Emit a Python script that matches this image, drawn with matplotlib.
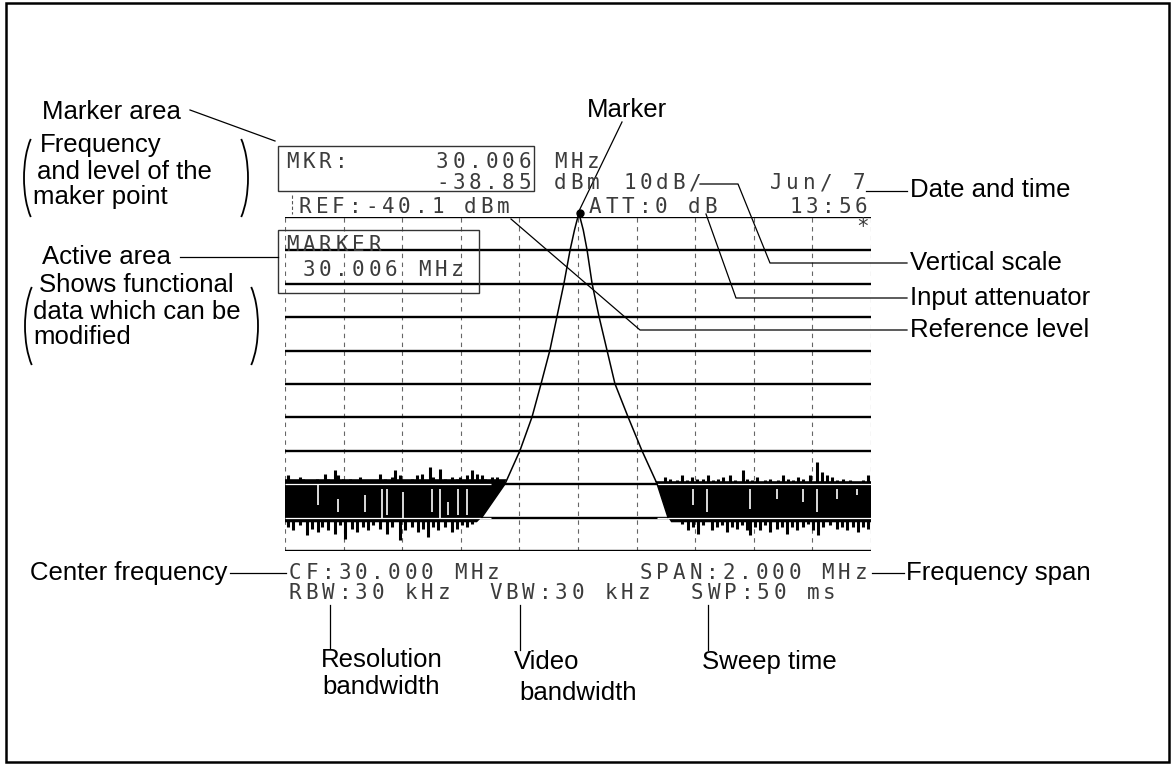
import matplotlib
matplotlib.use("Agg")
import matplotlib.pyplot as plt
from matplotlib.patches import Arc, Rectangle

# --- Analyzer settings shown on the screen ---
center_mhz = 30.000
span_mhz = 2.000
ref_level_dbm = -40.1
scale_db_div = 10
n_div_x = 10
n_div_y = 10
att_db = 0
rbw_khz = 30
vbw_khz = 30
sweep_ms = 50
date_text = "Jun/ 7"
time_text = "13:56"
marker_mhz = 30.006
marker_dbm = -38.85

# --- Signal peak ---
peak_mhz = [29.672, 29.751, 29.802, 29.843, 29.874, 29.904, 29.928, 29.952, 29.973, 29.988,
            30.003, 30.018, 30.031, 30.048, 30.072, 30.099, 30.126, 30.171, 30.218, 30.270, 30.307]
peak_dbm = [-130, -120, -110, -100, -90, -80, -70, -60, -50, -44,
            -38.9, -44, -50, -60, -70, -80, -90, -100, -110, -120, -130]

# --- Noise floor outline, left and right of the peak ---
noise_left_mhz = [29.000, 29.000, 29.755, 29.751, 29.672, 29.655]
noise_left_dbm = [-131.5, -118.6, -118.6, -120.0, -130.0, -131.5]
noise_right_mhz = [30.262, 30.270, 30.307, 30.318, 31.000, 31.000]
noise_right_dbm = [-119.2, -120.0, -130.0, -131.5, -131.5, -119.2]

# upward noise spikes
up_mhz = [29.011, 29.051, 29.063, 29.091, 29.108, 29.137, 29.148, 29.171, 29.182, 29.199,
          29.222, 29.239, 29.256, 29.279, 29.296, 29.324, 29.341, 29.364, 29.376, 29.393,
          29.404, 29.432, 29.450, 29.467, 29.495, 29.506, 29.529, 29.546, 29.569, 29.586,
          29.597, 29.620, 29.637, 29.654, 29.671, 29.683, 29.706, 29.723,
          30.297, 30.314, 30.337, 30.354, 30.371, 30.388, 30.405, 30.428, 30.445, 30.462,
          30.479, 30.496, 30.519, 30.536, 30.564, 30.576, 30.593, 30.610, 30.638, 30.655,
          30.684, 30.701, 30.718, 30.735, 30.752, 30.769, 30.792, 30.815, 30.832, 30.849,
          30.866, 30.883, 30.906, 30.928, 30.951, 30.974, 30.991]
up_dbm = [-117.4, -117.9, -118.4, -118.9, -118.4, -116.9, -118.4, -115.9, -117.4, -118.4,
          -118.4, -118.9, -117.9, -119.4, -118.9, -116.9, -118.4, -117.9, -115.9, -117.4,
          -118.9, -118.4, -117.4, -116.9, -114.9, -117.9, -115.4, -118.4, -117.9, -118.4,
          -117.9, -117.4, -115.9, -116.9, -117.4, -118.4, -117.9, -117.9,
          -117.9, -118.4, -118.9, -117.4, -118.9, -117.9, -118.4, -118.6, -117.4, -118.9,
          -118.4, -117.9, -117.4, -118.9, -115.9, -118.4, -118.9, -117.9, -118.9, -118.4,
          -118.9, -117.4, -118.4, -118.9, -117.9, -118.4, -117.4, -113.4, -116.4, -117.4,
          -117.9, -118.9, -118.4, -118.9, -119.4, -118.9, -117.4]

# downward noise spikes
down_mhz = [29.011, 29.028, 29.051, 29.074, 29.091, 29.114, 29.125, 29.148, 29.171, 29.188,
            29.205, 29.228, 29.245, 29.267, 29.284, 29.302, 29.324, 29.347, 29.364, 29.393,
            29.410, 29.432, 29.455, 29.472, 29.489, 29.506, 29.523, 29.546, 29.569, 29.586,
            29.603, 29.620, 29.637,
            30.354, 30.377, 30.394, 30.411, 30.428, 30.456, 30.473, 30.490, 30.507, 30.524,
            30.542, 30.559, 30.576, 30.587, 30.604, 30.621, 30.638, 30.655, 30.678, 30.695,
            30.712, 30.729, 30.746, 30.769, 30.786, 30.803, 30.820, 30.837, 30.860, 30.883,
            30.900, 30.917, 30.940, 30.957, 30.974, 30.991]
down_dbm = [-132.9, -133.9, -132.4, -135.4, -133.4, -134.4, -132.9, -133.9, -134.9, -132.4,
            -136.4, -133.4, -134.4, -132.9, -133.9, -132.4, -133.4, -134.9, -132.9, -136.9,
            -133.9, -132.9, -134.4, -133.4, -135.9, -132.9, -133.9, -132.9, -134.4, -133.4,
            -132.4, -132.9, -131.9,
            -131.9, -133.9, -132.9, -134.9, -132.4, -133.9, -132.9, -132.4, -134.4, -132.9,
            -133.4, -132.4, -133.9, -135.4, -132.9, -133.9, -132.4, -134.4, -133.4, -132.9,
            -134.9, -132.9, -133.9, -132.9, -131.9, -133.9, -135.4, -132.9, -132.4, -133.4,
            -132.9, -133.9, -132.9, -134.4, -132.9, -133.4]

# white gaps inside the noise band
gap_mhz = [29.114, 29.182, 29.273, 29.330, 29.347, 29.404, 29.501, 29.529, 29.558, 29.592, 29.620,
           30.394, 30.439, 30.587, 30.678, 30.769, 30.815, 30.883, 30.951]
gap_top_dbm = [-120.4, -124.4, -123.4, -121.4, -121.4, -122.4, -121.4, -121.4, -125.4, -121.4, -121.4,
               -121.4, -121.4, -121.4, -121.4, -121.4, -121.4, -121.4, -121.4]
gap_bottom_dbm = [-126.4, -128.4, -128.4, -130.4, -129.4, -130.4, -128.4, -130.4, -129.4, -129.4, -129.4,
                  -126.4, -128.4, -127.4, -124.4, -125.4, -128.4, -124.4, -123.4]

# --- Callout labels ---
left_notes = ["Frequency", "and level of the", "maker point"]
active_notes = ["Shows functional", "data which can be", "modified"]
right_labels = ["Date and time", "Vertical scale", "Input attenuator", "Reference level"]

plt.rcParams['font.family'] = ['Liberation Sans', 'DejaVu Sans']
W, H = 1171, 765
fig = plt.figure(figsize=(W / 100, H / 100), dpi=100)
fig.patch.set_facecolor('white')

# graticule axes, placed in pixel units
gx0, gx1, gy0, gy1 = 285, 871, 217, 551
ax = fig.add_axes([gx0 / W, 1 - gy1 / H, (gx1 - gx0) / W, (gy1 - gy0) / H])
f_lo = center_mhz - span_mhz / 2
f_hi = center_mhz + span_mhz / 2
bottom_dbm = ref_level_dbm - n_div_y * scale_db_div
ax.set_xlim(f_lo, f_hi)
ax.set_ylim(bottom_dbm, ref_level_dbm)
ax.axis('off')

for i in range(n_div_x + 1):
    ax.axvline(f_lo + i * span_mhz / n_div_x, color='#666666', lw=0.8,
               ls=(0, (4, 4)), zorder=1)
for j in range(n_div_y + 1):
    ax.axhline(ref_level_dbm - j * scale_db_div, color='black', lw=1.7, zorder=2)

# noise floor
ax.fill(noise_left_mhz, noise_left_dbm, color='black', lw=0, zorder=3)
ax.fill(noise_right_mhz, noise_right_dbm, color='black', lw=0, zorder=3)
ax.vlines(up_mhz, -120, up_dbm, color='black', lw=2.2, zorder=3)
ax.vlines(down_mhz, down_dbm, -130, color='black', lw=2.2, zorder=3)
ax.vlines(gap_mhz, gap_bottom_dbm, gap_top_dbm, color='white', lw=1.2, zorder=4)
for lvl in (ref_level_dbm - 8 * scale_db_div, ref_level_dbm - 9 * scale_db_div):
    ax.hlines(lvl, noise_left_mhz[0], noise_left_mhz[-2] + 0.03, color='white', lw=0.9, zorder=4)
    ax.hlines(lvl, noise_right_mhz[1], noise_right_mhz[-1], color='white', lw=0.9, zorder=4)

# signal trace and marker
ax.plot(peak_mhz, peak_dbm, color='black', lw=1.1, zorder=5, clip_on=False)
ax.plot([marker_mhz], [marker_dbm], 'o', color='black', ms=5, zorder=6, clip_on=False)

# overlay in pixel coordinates for screen text and callouts
ov = fig.add_axes([0, 0, 1, 1])
ov.set_xlim(0, W)
ov.set_ylim(H, 0)
ov.axis('off')
ov.patch.set_alpha(0)

PITCH = 16.5
SCR = dict(family='DejaVu Sans Mono', fontsize=15, color='#3c3c3c', va='center', ha='left')


def screen(text, x, y):
    for k, ch in enumerate(text):
        if ch != ' ':
            ov.text(x + k * PITCH, y, ch, **SCR)


screen("MKR:", 286, 162)
screen(f"{marker_mhz:.3f}", 436, 162)
screen("MHz", 554, 162)
screen(f"{marker_dbm:.2f}", 436, 183)
screen("dBm", 554, 183)
screen(f"{scale_db_div}dB/", 623, 183)
screen(date_text, 770, 183)
screen(f"REF:{ref_level_dbm:.1f} dBm", 299, 207)
screen(f"ATT:{att_db} dB", 589, 207)
screen(time_text, 789, 207)
screen("*", 856, 227)
screen("MARKER", 286, 245)
screen(f" {marker_mhz:.3f} MHz", 286, 270)
screen(f"CF:{center_mhz:.3f} MHz", 289, 573)
screen(f"SPAN:{span_mhz:.3f} MHz", 640, 573)
screen(f"RBW:{rbw_khz} kHz", 289, 593)
screen(f"VBW:{vbw_khz} kHz", 489, 593)
screen(f"SWP:{sweep_ms} ms", 691, 593)

# screen boxes
ov.add_patch(Rectangle((278, 146), 256, 45, fill=False, lw=1.0, ec='#333333'))
ov.add_patch(Rectangle((278, 230), 201, 63, fill=False, lw=1.0, ec='#333333'))
ov.plot([292, 292], [195, 214], color='#555555', lw=0.8, ls=(0, (3, 2)))

# callout labels
LAB = dict(fontsize=18.5, color='black', va='center')
ov.text(42, 112, "Marker area", **LAB)
for t, x, y in zip(left_notes, [40, 37, 33], [145, 172, 197]):
    ov.text(x, y, t, **LAB)
ov.text(42, 257, "Active area", **LAB)
for t, x, y in zip(active_notes, [39, 33, 33], [285, 312, 337]):
    ov.text(x, y, t, **LAB)
ov.text(627, 110, "Marker", ha='center', **LAB)
for t, y in zip(right_labels, [190, 263, 298, 330]):
    ov.text(910, y, t, **LAB)
ov.text(227, 573, "Center frequency", ha='right', **LAB)
ov.text(906, 573, "Frequency span", **LAB)
ov.text(321, 660, "Resolution", **LAB)
ov.text(322, 687, "bandwidth", **LAB)
ov.text(514, 662, "Video", **LAB)
ov.text(519, 693, "bandwidth", **LAB)
ov.text(702, 662, "Sweep time", **LAB)

# leader lines
leaders = [
    [(190, 110), (275, 141)],
    [(180, 257), (278, 257)],
    [(622, 122), (579, 211)],
    [(866, 191), (907, 191)],
    [(700, 184), (738, 184), (770, 263), (907, 263)],
    [(706, 214), (736, 298), (907, 298)],
    [(511, 219), (640, 330), (907, 330)],
    [(230, 573), (286, 573)],
    [(872, 573), (904, 573)],
    [(330, 605), (330, 648)],
    [(520, 605), (520, 650)],
    [(708, 605), (708, 650)],
]
for pts in leaders:
    xs, ys = zip(*pts)
    ov.plot(xs, ys, color='black', lw=0.9)

# brackets around the notes
for cx_l, cx_r, cy, h in [(45, 227, 178, 106), (46, 237, 326, 106)]:
    ov.add_patch(Arc((cx_l, cy), 42, h, theta1=110, theta2=250, lw=1.3, color='black'))
    ov.add_patch(Arc((cx_r, cy), 42, h, theta1=-70, theta2=70, lw=1.3, color='black'))

# outer frame
ov.add_patch(Rectangle((6, 3), 1163, 759, fill=False, lw=1.8, ec='black'))

fig.savefig("out.png", dpi=100)
